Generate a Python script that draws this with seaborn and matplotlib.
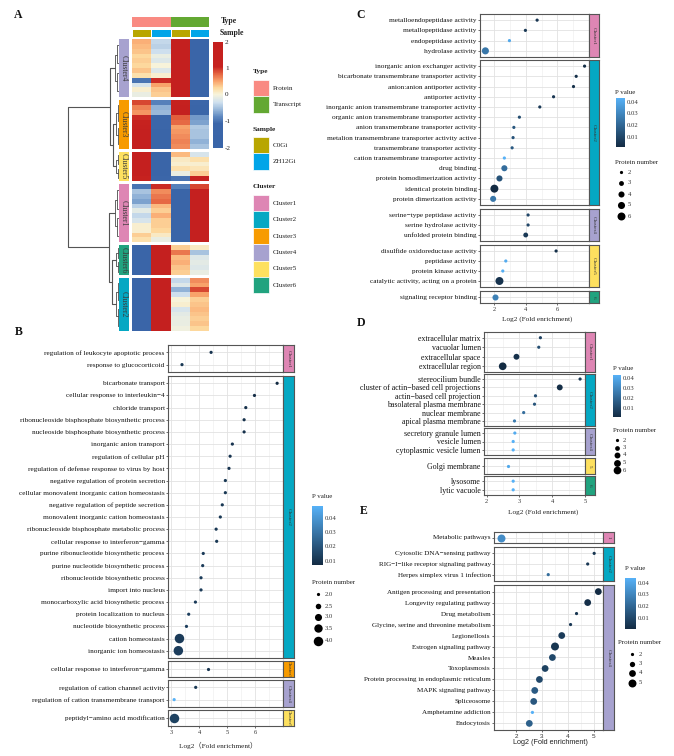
import numpy as np
import pandas as pd
import matplotlib
matplotlib.use("Agg")
import matplotlib.pyplot as plt
import seaborn as sns
from matplotlib.colors import LinearSegmentedColormap, ListedColormap, Normalize
from matplotlib.patches import Rectangle
import matplotlib.cm as cm

sns.set_theme(style="white")
plt.rcParams["font.family"] = ["Liberation Serif", "DejaVu Serif"]
plt.rcParams["axes.unicode_minus"] = False

# ---------------------------------------------------------------- data: panel A
hm_order = ["Cluster4", "Cluster3", "Cluster5", "Cluster1", "Cluster6", "Cluster2"]
hm_columns = ["Protein_C0Gi", "Protein_ZH12Gi", "Transcript_C0Gi", "Transcript_ZH12Gi"]
col_type = ["Protein", "Protein", "Transcript", "Transcript"]
col_sample = ["C0Gi", "ZH12Gi", "C0Gi", "ZH12Gi"]
type_levels = ["Protein", "Transcript"]
sample_levels = ["C0Gi", "ZH12Gi"]
cluster_levels = ["Cluster1", "Cluster2", "Cluster3", "Cluster4", "Cluster5", "Cluster6"]
hm_ticks = [2, 1, 0, -1, -2]

hm_cluster4 = [[0.45, -0.35, 2, -2], [0.4, -0.4, 2, -2], [0.35, -0.3, 2, -2], [0.25, -0.1, 2, -2],
               [0.3, -0.2, 2, -2], [0.25, 0.0, 2, -2], [0.35, -0.2, 2, -2], [0.2, 0.05, 2, -2],
               [-1.0, 1.0, 2, -2], [-0.25, 0.5, 2, -2], [0.05, 0.35, 2, -2], [-0.1, 0.3, 2, -2]]
hm_cluster3 = [[0.9, -0.9, 1.3, -1.1], [0.65, -0.6, 2, -2], [0.55, -0.55, 2, -2], [1.0, -1.2, 0.8, -0.75],
               [1.1, -1.3, 0.75, -0.7], [1.5, -1.5, 0.5, -0.45], [2, -2, 0.55, -0.5], [2, -2, 0.6, -0.5],
               [2, -2, 0.65, -0.6], [2, -2, 0.6, -0.5]]
hm_cluster5 = [[2, -2, 0.4, -0.25], [2, -2, 0.1, 0.2], [2, -2, 0.05, 0.05], [2, -2, 0.2, 0.15],
               [2, -2, -0.1, 0.3], [1.2, -1.2, -1.0, 1.2]]
hm_cluster1 = [[-1.0, 1.0, -0.9, 0.9], [-0.5, 0.6, -2, 2], [-0.6, 0.7, -2, 2], [-0.7, 0.75, -2, 2],
               [-0.4, 0.4, -2, 2], [-0.15, 0.3, -2, 2], [-0.35, 0.45, -2, 2], [-0.25, 0.3, -2, 2],
               [0.05, 0.3, -2, 2], [0.05, 0.25, -2, 2], [0.3, 0.1, -2, 2], [0.2, -0.1, -2, 2]]
hm_cluster6 = [[-2, 2, 0.3, 0.1], [-2, 2, 0.7, -0.5], [-2, 2, 0.4, -0.2], [-2, 2, 0.45, -0.15],
               [-2, 2, 0.35, -0.2], [-2, 2, 0.3, -0.1]]
hm_cluster2 = [[-2, 2, -0.35, 0.6], [-2, 2, -0.2, 0.5], [-2, 2, -0.6, 0.9], [-2, 2, -0.3, 0.5],
               [-2, 2, 0.0, 0.3], [-2, 2, 0.05, 0.35], [-2, 2, -0.25, 0.4], [-2, 2, -0.15, 0.35],
               [-2, 2, -0.1, 0.3], [-2, 2, -0.1, 0.35], [-2, 2, -0.05, 0.25]]
# cluster-level dendrogram (height, left, right) and within-cluster merge heights
dend_tree = (10.0, (1.75, "Cluster4", (1.15, "Cluster3", "Cluster5")),
             (1.95, "Cluster1", (1.35, "Cluster6", "Cluster2")))
dend_sub_height = [0.75, 0.6, 0.55, 0.7, 0.5, 0.6]

# ---------------------------------------------------------------- data: panel B
B_order = ["Cluster1", "Cluster2", "Cluster3", "Cluster4", "Cluster5"]
B_strip = ["Cluster1", "Cluster2", "Cluster3", "Cluster4", "Cluster5"]
B_cluster = ["Cluster1"] * 2 + ["Cluster2"] * 23 + ["Cluster3"] + ["Cluster4"] * 2 + ["Cluster5"]
B_terms = ["regulation of leukocyte apoptotic process", "response to glucocorticoid",
           "bicarbonate transport", "cellular response to interleukin\u22124", "chloride transport",
           "ribonucleoside bisphosphate biosynthetic process", "nucleoside bisphosphate biosynthetic process",
           "inorganic anion transport", "regulation of cellular pH",
           "regulation of defense response to virus by host", "negative regulation of protein secretion",
           "cellular monovalent inorganic cation homeostasis", "negative regulation of peptide secretion",
           "monovalent inorganic cation homeostasis", "ribonucleoside bisphosphate metabolic process",
           "cellular response to interferon\u2212gamma", "purine ribonucleotide biosynthetic process",
           "purine nucleotide biosynthetic process", "ribonucleotide biosynthetic process",
           "import into nucleus", "monocarboxylic acid biosynthetic process",
           "protein localization to nucleus", "nucleotide biosynthetic process", "cation homeostasis",
           "inorganic ion homeostasis",
           "cellular response to interferon\u2212gamma",
           "regulation of cation channel activity", "regulation of cation transmembrane transport",
           "peptidyl\u2212amino acid modification"]
B_fe = [4.43, 3.39,
        6.79, 5.98, 5.67, 5.61, 5.61, 5.19, 5.11, 5.07, 4.94, 4.94, 4.83, 4.76, 4.61, 4.63,
        4.15, 4.13, 4.07, 4.07, 3.87, 3.63, 3.55, 3.30, 3.26,
        4.31,
        3.88, 3.11,
        3.11]
B_p = [0.010, 0.011,
       0.007, 0.008, 0.009, 0.009, 0.009, 0.010, 0.010, 0.010, 0.011, 0.011, 0.011, 0.011, 0.011, 0.011,
       0.012, 0.012, 0.012, 0.012, 0.012, 0.013, 0.013, 0.012, 0.013,
       0.010,
       0.011, 0.048,
       0.014]
B_n = [2, 2] + [2] * 21 + [4, 4] + [2] + [2, 2] + [4]
B_leg_values = [2.0, 2.5, 3.0, 3.5, 4.0]
B_leg_labels = ["2.0", "2.5", "3.0", "3.5", "4.0"]
B_xticks = [3, 4, 5, 6]

# ---------------------------------------------------------------- data: panel C
C_order = ["Cluster1", "Cluster2", "Cluster4", "Cluster5", "Cluster6"]
C_strip = ["Cluster1", "Cluster2", "Cluster4", "Cluster5", "6"]
C_cluster = ["Cluster1"] * 4 + ["Cluster2"] * 14 + ["Cluster4"] * 3 + ["Cluster5"] * 4 + ["Cluster6"]
C_terms = ["metalloendopeptidase activity", "metallopeptidase activity", "endopeptidase activity",
           "hydrolase activity",
           "inorganic anion exchanger activity", "bicarbonate transmembrane transporter activity",
           "anion:anion antiporter activity", "antiporter activity",
           "inorganic anion transmembrane transporter activity",
           "organic anion transmembrane transporter activity", "anion transmembrane transporter activity",
           "metalion transmembrane transporter activity active", "transmembrane transporter activity",
           "cation transmembrane transporter activity", "drug binding", "protein homodimerization activity",
           "identical protein binding", "protein dimerization activity",
           "serine\u2212type peptidase activity", "serine hydrolase activity", "unfolded protein binding",
           "disulfide oxidoreductase activity", "peptidase activity", "protein kinase activity",
           "catalytic activity, acting on a protein",
           "signaling receptor binding"]
C_fe = [4.72, 3.98, 2.97, 1.45,
        7.72, 7.19, 7.02, 5.76, 4.89, 3.60, 3.25, 3.20, 3.14, 2.65, 2.65, 2.34, 2.02, 1.94,
        4.15, 4.15, 4.00,
        5.92, 2.74, 2.55, 2.34,
        2.08]
C_p = [0.005, 0.006, 0.040, 0.025,
       0.002, 0.003, 0.003, 0.005, 0.006, 0.012, 0.015, 0.014, 0.016, 0.043, 0.022, 0.014, 0.0015, 0.025,
       0.010, 0.010, 0.006,
       0.003, 0.041, 0.042, 0.004,
       0.028]
C_n = [2, 2, 2, 5,
       2, 2, 2, 2, 2, 2, 2, 2, 2, 2, 4, 4, 6, 4,
       2, 2, 3,
       2, 2, 2, 6,
       4]
C_leg_values = [2, 3, 4, 5, 6]
C_xticks = [2, 4, 6]

# ---------------------------------------------------------------- data: panel D
D_order = ["Cluster1", "Cluster2", "Cluster4", "Cluster5", "Cluster6"]
D_strip = ["Cluster1", "Cluster2", "Cluster4", "5", "6"]
D_cluster = ["Cluster1"] * 4 + ["Cluster2"] * 6 + ["Cluster4"] * 3 + ["Cluster5"] + ["Cluster6"] * 2
D_terms = ["extracellular matrix", "vacuolar lumen", "extracellular space", "extracellular region",
           "stereocilium bundle", "cluster of actin\u2212based cell projections",
           "actin\u2212based cell projection", "basolateral plasma membrane", "nuclear membrane",
           "apical plasma membrane",
           "secretory granule lumen", "vesicle lumen", "cytoplasmic vesicle lumen",
           "Golgi membrane",
           "lysosome", "lytic vacuole"]
D_fe = [3.64, 3.59, 2.91, 2.49,
        4.85, 4.23, 3.49, 3.46, 3.13, 2.85,
        2.86, 2.81, 2.81,
        2.66,
        2.81, 2.81]
D_p = [0.008, 0.012, 0.003, 0.001,
       0.005, 0.002, 0.012, 0.014, 0.022, 0.026,
       0.041, 0.043, 0.043,
       0.040,
       0.043, 0.043]
D_n = [2, 2, 4, 6,
       2, 4, 2, 2, 2, 2,
       2, 2, 2,
       2,
       2, 2]
D_leg_values = [2, 3, 4, 5, 6]
D_xticks = [2, 3, 4, 5]

# ---------------------------------------------------------------- data: panel E
E_order = ["Cluster1", "Cluster2", "Cluster4"]
E_strip = ["1", "Cluster2", "Cluster4"]
E_cluster = ["Cluster1"] + ["Cluster2"] * 3 + ["Cluster4"] * 13
E_terms = ["Metabolic pathways",
           "Cytosolic DNA\u2212sensing pathway", "RIG\u2212I\u2212like receptor signaling pathway",
           "Herpes simplex virus 1 infection",
           "Antigen processing and presentation", "Longevity regulating pathway", "Drug metabolism",
           "Glycine, serine and threonine metabolism", "Legionellosis", "Estrogen signaling pathway",
           "Measles", "Toxoplasmosis", "Protein processing in endoplasmic reticulum",
           "MAPK signaling pathway", "Spliceosome", "Amphetamine addiction", "Endocytosis"]
E_fe = [1.41,
        5.01, 4.76, 3.24,
        5.17, 4.76, 4.33, 4.10, 3.76, 3.50, 3.40, 3.12, 2.90, 2.72, 2.68, 2.63, 2.51]
E_p = [0.032,
       0.004, 0.005, 0.022,
       0.0006, 0.002, 0.004, 0.005, 0.006, 0.004, 0.010, 0.008, 0.010, 0.016, 0.015, 0.044, 0.018]
E_n = [5,
       2, 2, 2,
       4, 4, 2, 2, 4, 5, 4, 4, 4, 4, 4, 2, 4]
E_leg_values = [2, 3, 4, 5]
E_xticks = [2, 3, 4, 5]

p_ticks = [0.01, 0.02, 0.03, 0.04]

# ---------------------------------------------------------------- styles
cluster_colors = {"Cluster1": "#de86b4", "Cluster2": "#05a8c3", "Cluster3": "#f79b00",
                  "Cluster4": "#a7a2cf", "Cluster5": "#fde05f", "Cluster6": "#21a37f"}
type_colors = ["#f98a82", "#63a832"]
sample_colors = ["#b8a600", "#01a5e8"]
hm_stops = [(-2.0, "#3a65a8"), (-1.1, "#3b66a9"), (-0.85, "#5d87bf"), (-0.6, "#92b3d7"),
            (-0.3, "#cfe0ee"), (0.0, "#f7f4dc"), (0.25, "#fdda9f"), (0.5, "#f9a46c"),
            (0.8, "#e3603e"), (1.05, "#c6221f"), (2.0, "#c4201f")]
hm_cmap = LinearSegmentedColormap.from_list("hm", [((v + 2) / 4, c) for v, c in hm_stops])
pv_cmap = LinearSegmentedColormap.from_list("pv", ["#132B43", "#56B1F7"])
EDGE = "#555555"

W, H = 674, 756
fig = plt.figure(figsize=(W / 100, H / 100), dpi=100)


def add_px(x0, y0, x1, y1):
    return fig.add_axes([x0 / W, 1 - y1 / H, (x1 - x0) / W, (y1 - y0) / H])


# ================================================================ panel A
hm_data = {"Cluster4": hm_cluster4, "Cluster3": hm_cluster3, "Cluster5": hm_cluster5,
           "Cluster1": hm_cluster1, "Cluster6": hm_cluster6, "Cluster2": hm_cluster2}
hm_top, hm_bot, hm_gap = 39.0, 331.0, 3.2
hm_x0, hm_x1 = 132, 209
counts = [len(hm_data[c]) for c in hm_order]
unit = (hm_bot - hm_top - hm_gap * (len(counts) - 1)) / sum(counts)
extents = {}
yy = hm_top
for c, n in zip(hm_order, counts):
    extents[c] = (yy, yy + n * unit)
    yy += n * unit + hm_gap

for c in hm_order:
    y0, y1 = extents[c]
    ax = add_px(hm_x0, y0, hm_x1, y1)
    sns.heatmap(pd.DataFrame(hm_data[c], columns=hm_columns), ax=ax, cmap=hm_cmap, vmin=-2, vmax=2,
                cbar=False, xticklabels=False, yticklabels=False)
    ax.set_xlabel("")
    ax.set_ylabel("")
    lb = add_px(119, y0, 129, y1)
    lb.set_facecolor(cluster_colors[c])
    lb.set_xticks([])
    lb.set_yticks([])
    for s in lb.spines.values():
        s.set_visible(False)
    lb.text(0.5, 0.5, c, rotation=-90, ha="center", va="center", fontsize=5.6, color="#3a3a3a",
            transform=lb.transAxes, clip_on=True)

# column annotations
ax = add_px(hm_x0, 17, hm_x1, 27)
sns.heatmap(np.array([[type_levels.index(t) for t in col_type]]), ax=ax,
            cmap=ListedColormap(type_colors), vmin=-0.5, vmax=1.5, cbar=False,
            xticklabels=False, yticklabels=False)
ax = add_px(hm_x0, 29, hm_x1, 37)
sns.heatmap(np.array([[sample_levels.index(t) for t in col_sample]]), ax=ax,
            cmap=ListedColormap(sample_colors), vmin=-0.5, vmax=1.5, cbar=False,
            xticklabels=False, yticklabels=False, linewidths=0.4, linecolor="white")

# dendrogram
dax = add_px(66, hm_top, 119, hm_bot)
dax.set_xlim(10.35, 0)
dax.set_ylim(hm_bot, hm_top)
dax.axis("off")
leaf_pos = {}
DCOL = "#4a4a4a"
for c, h2 in zip(hm_order, dend_sub_height):
    y0, y1 = extents[c]
    L = y1 - y0
    h3 = h2 * 0.45
    a, b = y0 + 0.27 * L, y0 + 0.72 * L
    dax.plot([h3, h2, h2, h3], [a, a, b, b], color=DCOL, lw=0.6)
    for lo, hi in ((y0 + 0.1 * L, y0 + 0.42 * L), (y0 + 0.58 * L, y0 + 0.9 * L)):
        dax.plot([0, h3, h3, 0], [lo, lo, hi, hi], color=DCOL, lw=0.6)
    leaf_pos[c] = ((a + b) / 2, h2)


def draw_tree(node):
    if isinstance(node, str):
        return leaf_pos[node]
    h, left, right = node
    ya, ha = draw_tree(left)
    yb, hb = draw_tree(right)
    dax.plot([ha, h, h, hb], [ya, ya, yb, yb], color="#555555", lw=0.8)
    return (ya + yb) / 2, h


draw_tree(dend_tree)

# heatmap colour bar
cax = add_px(213, 41.5, 223, 147.5)
cb = fig.colorbar(cm.ScalarMappable(norm=Normalize(-2, 2), cmap=hm_cmap), cax=cax)
cb.set_ticks(hm_ticks)
cb.set_ticklabels([str(t) for t in hm_ticks])
cb.outline.set_visible(False)
cax.tick_params(length=2, width=0.5, color="white", direction="in", labelsize=5.2, pad=1.5,
                labelcolor="#222222")


# ================================================================ dot plots
def dot_panel(terms, clusters, fe, pv, nn, order, strips, boxes, x0, x1, sx1, xlim, xticks,
              xminor, sizes, size_norm, sans=False, fs=4.9):
    df = pd.DataFrame({"term": terms, "cluster": clusters, "fe": fe, "p": pv, "n": nn})
    pnorm = (df["p"].min(), df["p"].max())
    last = len(order) - 1
    for i, cl in enumerate(order):
        sub = df[df["cluster"] == cl].reset_index(drop=True)
        yt, yb = boxes[i]
        ax = add_px(x0, yt, x1, yb)
        sns.scatterplot(data=sub, x="fe", y="term", hue="p", size="n", palette=pv_cmap,
                        hue_norm=pnorm, sizes=sizes, size_norm=size_norm, linewidth=0,
                        legend=False, ax=ax, zorder=3)
        ax.set_ylim(len(sub) - 0.4, -0.6)
        ax.set_xlim(*xlim)
        ax.set_xticks(xticks)
        ax.set_xticks(xminor, minor=True)
        ax.grid(which="major", color="#e2e2e2", lw=0.6)
        ax.grid(which="minor", axis="x", color="#ececec", lw=0.4)
        ax.set_axisbelow(True)
        ax.set_xlabel("")
        ax.set_ylabel("")
        for s in ax.spines.values():
            s.set_color(EDGE)
            s.set_linewidth(0.8)
        ax.tick_params(axis="y", labelsize=fs, length=1.6, width=0.5, color="#333333", pad=0.8,
                       labelcolor="#111111", left=True)
        ax.tick_params(which="minor", length=0)
        if i == last:
            ax.tick_params(axis="x", labelsize=4.6, length=1.6, width=0.5, color="#333333",
                           pad=1, labelcolor="#333333", bottom=True)
            ax.set_xticklabels([str(t) for t in xticks])
            if sans:
                for t in ax.get_xticklabels():
                    t.set_fontfamily(["Liberation Sans", "DejaVu Sans"])
        else:
            ax.tick_params(axis="x", labelbottom=False, length=0)
        sa = add_px(x1, yt, sx1, yb)
        sa.set_facecolor(cluster_colors[cl])
        sa.set_xticks([])
        sa.set_yticks([])
        for s in sa.spines.values():
            s.set_color(EDGE)
            s.set_linewidth(0.8)
        sa.text(0.5, 0.5, strips[i], rotation=-90, ha="center", va="center", fontsize=3.8,
                color="#333333", transform=sa.transAxes, clip_on=True)
    return pnorm


def size_of(v, sizes, size_norm):
    t = (v - size_norm[0]) / (size_norm[1] - size_norm[0])
    return sizes[0] + (sizes[1] - sizes[0]) * min(max(t, 0), 1)


B_sizes, C_sizes, D_sizes, E_sizes = (5.3, 46.8), (5.3, 33.0), (5.3, 30.7), (5.3, 33.0)

B_pn = dot_panel(B_terms, B_cluster, B_fe, B_p, B_n, B_order, B_strip,
                 [(345, 372), (376, 658), (661, 677), (680, 707), (710, 726)],
                 168, 283, 294, (2.89, 7.0), B_xticks, [3.5, 4.5, 5.5, 6.5], B_sizes, (2, 4),
                 fs=5.25)
C_pn = dot_panel(C_terms, C_cluster, C_fe, C_p, C_n, C_order, C_strip,
                 [(14, 57), (60, 205), (209, 241), (245, 287), (291, 303)],
                 480, 589, 599, (1.11, 8.0), C_xticks, [3, 5, 7], C_sizes, (2, 6), fs=5.2)
D_pn = dot_panel(D_terms, D_cluster, D_fe, D_p, D_n, D_order, D_strip,
                 [(332, 372), (374, 426), (428, 455), (458, 474), (476, 495)],
                 484, 585, 595, (1.92, 5.0), D_xticks, [2.5, 3.5, 4.5], D_sizes, (2, 6), fs=5.7)
E_pn = dot_panel(E_terms, E_cluster, E_fe, E_p, E_n, E_order, E_strip,
                 [(532, 543), (547, 581), (585, 730)],
                 494, 603, 614, (1.15, 5.35), E_xticks, [1.5, 2.5, 3.5, 4.5], E_sizes, (2, 5),
                 sans=True, fs=5.1)


def pv_colorbar(box, pnorm):
    cx = add_px(*box)
    c = fig.colorbar(cm.ScalarMappable(norm=Normalize(*pnorm), cmap=pv_cmap), cax=cx)
    c.set_ticks(p_ticks)
    c.set_ticklabels([f"{t:.2f}" for t in p_ticks])
    c.outline.set_visible(False)
    cx.tick_params(direction="in", color="white", length=2, width=0.5, left=True, right=True,
                   labelleft=False, labelright=True, labelsize=4.8, pad=1.5, labelcolor="#333333")


pv_colorbar((312, 506, 323, 565), B_pn)
pv_colorbar((616, 98, 625, 147), C_pn)
pv_colorbar((613, 375, 621, 417), D_pn)
pv_colorbar((625, 578, 636, 629), E_pn)

# ================================================================ overlay (texts, legends)
ov = fig.add_axes([0, 0, 1, 1])
ov.set_xlim(0, W)
ov.set_ylim(H, 0)
ov.axis("off")
ov.patch.set_visible(False)

for letter, (x, y) in zip("ABCDE", [(18, 15), (19, 332), (361, 15), (361, 323), (364, 511)]):
    ov.text(x, y, letter, fontsize=8.5, weight="bold", ha="center", va="center", color="#111111")

# panel A annotation names
ov.text(221, 21, "Type", fontsize=5.6, weight="bold", va="center", color="#222222")
ov.text(220, 33, "Sample", fontsize=5.6, weight="bold", va="center", color="#222222")

# panel A legends
ov.text(253, 72, "Type", fontsize=5.3, weight="bold", va="center", color="#222222")
for k, (lab, col) in enumerate(zip(type_levels, type_colors)):
    y0 = 80 + k * 16.4
    ov.add_patch(Rectangle((253, y0), 16, 16.4, facecolor=col, edgecolor="white", lw=0.5))
    ov.text(273, y0 + 8.2, lab, fontsize=5.1, va="center", color="#222222")
ov.text(253, 129, "Sample", fontsize=5.3, weight="bold", va="center", color="#222222")
for k, (lab, col) in enumerate(zip(sample_levels, sample_colors)):
    y0 = 137 + k * 16.4
    ov.add_patch(Rectangle((253, y0), 16, 16.4, facecolor=col, edgecolor="white", lw=0.5))
    ov.text(273, y0 + 8.2, lab, fontsize=5.1, va="center", color="#222222")
ov.text(253, 187, "Cluster", fontsize=5.3, weight="bold", va="center", color="#222222")
for k, lab in enumerate(cluster_levels):
    y0 = 195 + k * 16.4
    ov.add_patch(Rectangle((253, y0), 16, 16.4, facecolor=cluster_colors[lab], edgecolor="white",
                           lw=0.5))
    ov.text(273, y0 + 8.2, lab, fontsize=5.1, va="center", color="#222222")


def size_legend(title_xy, dot_x, dot_ys, values, labels, sizes, size_norm, lab_x):
    ov.text(title_xy[0], title_xy[1], "Protein number", fontsize=5.0, va="center", color="#222222")
    for y, v, lab in zip(dot_ys, values, labels):
        ov.scatter([dot_x], [y], s=size_of(v, sizes, size_norm), color="black", lw=0)
        ov.text(lab_x, y, lab, fontsize=4.8, va="center", color="#333333")


for (tx, ty) in [(312, 497), (615, 93), (613, 368), (625, 568)]:
    ov.text(tx, ty, "P value", fontsize=5.0, va="center", color="#222222")

size_legend((312, 583), 318, [594, 606, 617, 628, 641], B_leg_values, B_leg_labels, B_sizes, (2, 4), 325)
size_legend((615, 163), 621, [172, 183, 194, 205, 216], C_leg_values,
            [str(v) for v in C_leg_values], C_sizes, (2, 6), 628)
size_legend((613, 430), 617, [440, 447.5, 455, 462.5, 470], D_leg_values,
            [str(v) for v in D_leg_values], D_sizes, (2, 6), 623)
size_legend((618, 642), 632, [654, 663.5, 673, 683], E_leg_values,
            [str(v) for v in E_leg_values], E_sizes, (2, 5), 639)

# x-axis titles
ov.text(218, 745, "Log2\uff08Fold enrichment\uff09", fontsize=5.2, ha="center", va="center",
        color="#222222", family=["Liberation Serif", "Noto Sans CJK SC"])
ov.text(537, 319, "Log2 (Fold enrichment)", fontsize=5.2, ha="center", va="center", color="#222222")
ov.text(543, 512, "Log2 (Fold enrichment)", fontsize=5.2, ha="center", va="center", color="#222222")
ov.text(550, 742, "Log2 (Fold enrichment)", fontsize=5.2, ha="center", va="center", color="#222222",
        family=["Liberation Sans", "DejaVu Sans"])

fig.savefig("out.png", dpi=100, facecolor="white")
